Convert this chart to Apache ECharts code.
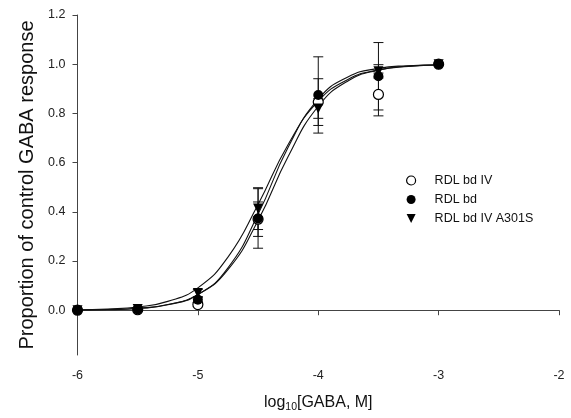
<!DOCTYPE html>
<html>
<head>
<meta charset="utf-8">
<script src="https://cdn.jsdelivr.net/npm/echarts@6/dist/echarts.min.js"></script>
<style>html,body{margin:0;padding:0;background:#fff;}#c{width:571px;height:418px;}</style>
</head>
<body>
<div id="c"></div>
<script>
// data
var logConc = [-6, -5.5, -5, -4.5, -4, -3.5, -3];
var seriesNames = ['RDL bd IV', 'RDL bd', 'RDL bd IV A301S'];
var bdIV = [0, 0.002, 0.023, 0.37, 0.846, 0.877, 1.0];
var bdIVErr = [0, 0, 0.008, 0.07, 0.095, 0.087, 0];
var bd = [0, 0.003, 0.043, 0.373, 0.875, 0.951, 1.0];
var bdErr = [0, 0, 0.01, 0.121, 0.155, 0.137, 0];
var a301s = [0, 0.005, 0.07, 0.413, 0.82, 0.971, 1.0];
var a301sErr = [0, 0, 0.015, 0.085, 0.04, 0.027, 0];
// fitted curves, values
var curveX = [-6, -5.75, -5.5, -5.25, -5, -4.75, -4.5, -4.25, -4, -3.75, -3.5, -3.25, -3];
var curveBdIV = [0.001, 0.003, 0.008, 0.023, 0.064, 0.165, 0.365, 0.625, 0.829, 0.933, 0.976, 0.992, 0.997];
var curveBd = [0.001, 0.002, 0.007, 0.022, 0.063, 0.172, 0.390, 0.662, 0.858, 0.949, 0.983, 0.994, 0.998];
var curveA301S = [0.002, 0.005, 0.013, 0.036, 0.091, 0.216, 0.430, 0.674, 0.850, 0.939, 0.977, 0.991, 0.997];
var xTicks = [-6, -5, -4, -3, -2];
var yTicks = [0, 0.2, 0.4, 0.6, 0.8, 1.0, 1.2];

function zip(xs, ys) { return xs.map(function (x, i) { return [x, ys[i]]; }); }
function errData(xs, ys, es) {
  var out = [];
  xs.forEach(function (x, i) { if (es[i] > 0) out.push([x, ys[i] - es[i], ys[i] + es[i]]); });
  return out;
}
function errRender(params, api) {
  var x = api.value(0), lo = api.value(1), hi = api.value(2);
  var p1 = api.coord([x, lo]), p2 = api.coord([x, hi]);
  var w = 5;
  var st = { stroke: '#111', lineWidth: 1 };
  return { type: 'group', children: [
    { type: 'line', shape: { x1: p1[0], y1: p1[1], x2: p2[0], y2: p2[1] }, style: st },
    { type: 'line', shape: { x1: p1[0] - w, y1: p1[1], x2: p1[0] + w, y2: p1[1] }, style: st },
    { type: 'line', shape: { x1: p2[0] - w, y1: p2[1], x2: p2[0] + w, y2: p2[1] }, style: st }
  ]};
}
function curve(data) {
  return { type: 'line', data: zip(curveX, data), smooth: 0.5, showSymbol: false,
    symbol: 'none', lineStyle: { color: '#111', width: 1.1 }, silent: true, z: 2 };
}
function errSeries(data) {
  return { type: 'custom', renderItem: errRender, data: data, encode: { x: 0, y: [1, 2] }, z: 3, silent: true };
}

var chart = echarts.init(document.getElementById('c'), null, { renderer: 'canvas' });
var font = 'Liberation Sans, Arial, sans-serif';
chart.setOption({
  animation: false,
  backgroundColor: '#fff',
  textStyle: { fontFamily: font },
  grid: { left: 77.5, right: 12, top: 15, bottom: 60.5, containLabel: false },
  legend: {
    orient: 'vertical', left: 401, top: 169, itemWidth: 9, itemHeight: 9, itemGap: 6,
    data: [
      { name: seriesNames[0], icon: 'circle', itemStyle: { color: '#fff', borderColor: '#000', borderWidth: 1.2 } },
      { name: seriesNames[1], icon: 'circle' },
      { name: seriesNames[2], icon: 'path://M0,0L10,0L5,10Z' }
    ],
    textStyle: { fontFamily: font, fontSize: 12.5, color: '#111', padding: [0, 0, 0, 14] }
  },
  xAxis: {
    type: 'value', min: -6, max: -2, interval: 1,
    name: '{a|log}{b|10}{a|[GABA, M]}', nameLocation: 'middle', nameGap: 38,
    nameTextStyle: { rich: {
      a: { fontFamily: font, fontSize: 16, color: '#111', lineHeight: 20 },
      b: { fontFamily: font, fontSize: 10.5, color: '#111', lineHeight: 20, padding: [9, 0, 0, 0] }
    } },
    axisLine: { lineStyle: { color: '#444', width: 1 } },
    axisTick: { length: 5, lineStyle: { color: '#444' } },
    axisLabel: { color: '#222', fontSize: 12.5, margin: 14, fontFamily: font },
    splitLine: { show: false }
  },
  yAxis: {
    type: 'value', min: -0.182, max: 1.2,
    name: 'Proportion of control GABA response', nameLocation: 'middle', nameGap: 40,
    nameTextStyle: { fontFamily: font, fontSize: 20, color: '#111', padding: [0, 0, 0, 0] },
    axisLine: { show: true, lineStyle: { color: '#444', width: 1 } },
    axisTick: { show: true, length: 5, lineStyle: { color: '#444' }, customValues: yTicks },
    axisLabel: { color: '#222', fontSize: 12.5, margin: 12, fontFamily: font, customValues: yTicks,
      formatter: function (v) { return v.toFixed(1); } },
    splitLine: { show: false }
  },
  series: [
    curve(curveBdIV), curve(curveBd), curve(curveA301S),
    errSeries(errData(logConc, bdIV, bdIVErr)),
    errSeries(errData(logConc, bd, bdErr)),
    errSeries(errData(logConc, a301s, a301sErr)),
    { name: seriesNames[0], type: 'scatter', data: zip(logConc, bdIV), symbol: 'circle', symbolSize: 10,
      itemStyle: { color: '#fff', borderColor: '#000', borderWidth: 1.2, opacity: 1 }, z: 4 },
    { name: seriesNames[2], type: 'scatter', data: zip(logConc, a301s), symbol: 'triangle', symbolRotate: 180, symbolSize: 10,
      itemStyle: { color: '#000', opacity: 1 }, z: 5 },
    { name: seriesNames[1], type: 'scatter', data: zip(logConc, bd), symbol: 'circle', symbolSize: 10,
      itemStyle: { color: '#000', opacity: 1 }, z: 6 }
  ]
});
</script>
</body>
</html>
